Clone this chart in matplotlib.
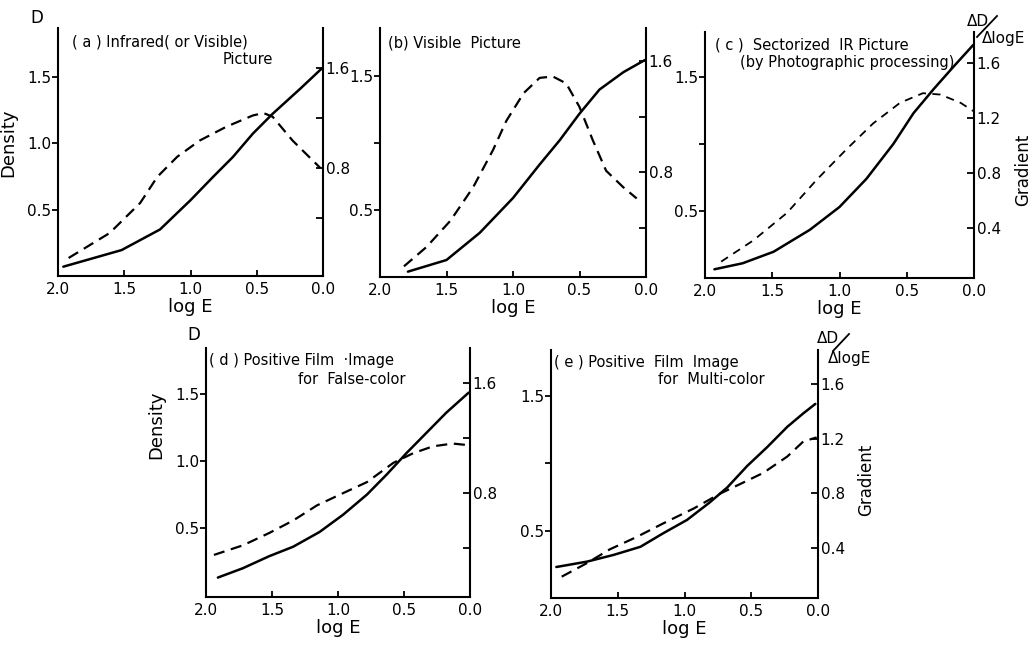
import numpy as np
import matplotlib
matplotlib.use('Agg')
from matplotlib import pyplot as plt
from matplotlib.lines import Line2D

plt.rcParams['font.family'] = ['DejaVu Sans']

W, H = 1032, 646

# ---------------- data (log E, density D, gradient G)
a_x_D = [1.96, 1.52, 1.23, 1.00, 0.83, 0.68, 0.53, 0.38, 0.17, 0.01]
a_D = [0.07, 0.195, 0.35, 0.57, 0.745, 0.895, 1.07, 1.22, 1.41, 1.56]
a_x_G = [1.92, 1.61, 1.38, 1.25, 1.10, 0.93, 0.73, 0.53, 0.45, 0.38, 0.23, 0.02]
a_G = [0.08, 0.28, 0.52, 0.73, 0.89, 1.02, 1.13, 1.22, 1.24, 1.21, 1.02, 0.80]

b_x_D = [1.79, 1.50, 1.25, 1.00, 0.80, 0.65, 0.50, 0.35, 0.17, 0.01]
b_D = [0.04, 0.127, 0.33, 0.59, 0.84, 1.02, 1.22, 1.40, 1.53, 1.62]
b_x_G = [1.82, 1.65, 1.47, 1.30, 1.15, 1.05, 0.92, 0.80, 0.70, 0.60, 0.50, 0.40, 0.30, 0.17, 0.07]
b_G = [0.12, 0.26, 0.45, 0.69, 0.96, 1.17, 1.37, 1.48, 1.49, 1.44, 1.27, 1.03, 0.81, 0.69, 0.61]

c_x_D = [1.93, 1.72, 1.49, 1.22, 1.00, 0.80, 0.60, 0.45, 0.30, 0.15, 0.005]
c_D = [0.065, 0.11, 0.196, 0.36, 0.53, 0.74, 1.00, 1.23, 1.41, 1.58, 1.74]
c_x_G = [1.88, 1.64, 1.39, 1.17, 0.95, 0.75, 0.55, 0.38, 0.25, 0.10, 0.005]
c_G = [0.155, 0.31, 0.51, 0.75, 0.97, 1.16, 1.31, 1.38, 1.37, 1.31, 1.25]

d_x_D = [1.91, 1.72, 1.52, 1.34, 1.14, 0.96, 0.78, 0.63, 0.48, 0.33, 0.18, 0.01]
d_D = [0.13, 0.20, 0.29, 0.36, 0.47, 0.60, 0.75, 0.90, 1.06, 1.21, 1.36, 1.51]
d_x_G = [1.94, 1.72, 1.52, 1.34, 1.16, 0.96, 0.78, 0.58, 0.43, 0.28, 0.13, 0.03]
d_G = [0.35, 0.42, 0.51, 0.60, 0.71, 0.80, 0.88, 1.02, 1.09, 1.14, 1.16, 1.15]

e_x_D = [1.96, 1.73, 1.53, 1.33, 1.16, 0.98, 0.81, 0.68, 0.53, 0.38, 0.23, 0.11, 0.02]
e_D = [0.23, 0.27, 0.32, 0.38, 0.48, 0.58, 0.71, 0.82, 0.98, 1.12, 1.27, 1.37, 1.44]
e_x_G = [1.92, 1.73, 1.56, 1.36, 1.16, 0.93, 0.73, 0.58, 0.41, 0.23, 0.11, 0.01]
e_G = [0.19, 0.29, 0.39, 0.48, 0.58, 0.69, 0.80, 0.87, 0.95, 1.07, 1.18, 1.21]

x_ticks = [2.0, 1.5, 1.0, 0.5, 0.0]
x_labels = ['2.0', '1.5', '1.0', '0.5', '0.0']
d_ticks = [0.5, 1.0, 1.5]
g_ticks = [0.4, 0.8, 1.2, 1.6]


def px(x, y):
    return x / W, 1 - y / H


fig = plt.figure(figsize=(W / 100, H / 100), dpi=100)


def panel(l, t, r, b, xD, D, xG, G, ylim_d, ylim_g, d_lab, g_lab,
          g_lw=1.6, g_dash=(5, 3)):
    ax = fig.add_axes([l / W, 1 - b / H, (r - l) / W, (b - t) / H])
    ax.set_xlim(2.0, 0.0)
    ax.set_ylim(*ylim_d)
    ax.plot(xD, D, color='black', lw=1.8, solid_capstyle='round',
            solid_joinstyle='round')
    ax.spines['top'].set_visible(False)
    ax.spines['right'].set_visible(False)
    for s in ['left', 'bottom']:
        ax.spines[s].set_linewidth(1.5)
    ax.set_xticks(x_ticks)
    ax.set_xticklabels(x_labels, fontsize=11)
    ax.set_yticks(d_ticks)
    ax.set_yticklabels(d_lab, fontsize=11)
    ax.tick_params(axis='x', direction='in', length=4, width=1.3, pad=4)
    ax.tick_params(axis='y', direction='out', length=4, width=1.3, pad=1)
    ax.set_xlabel('log E', fontsize=13, labelpad=1)

    ax2 = ax.twinx()
    ax2.set_position(ax.get_position())
    ax2.set_ylim(*ylim_g)
    ax2.plot(xG, G, color='black', lw=g_lw, dashes=g_dash)
    for s in ['top', 'left', 'bottom']:
        ax2.spines[s].set_visible(False)
    ax2.spines['right'].set_linewidth(1.5)
    ax2.set_yticks(g_ticks)
    ax2.set_yticklabels(g_lab, fontsize=11)
    ax2.tick_params(axis='y', direction='in', length=5, width=1.3, pad=2)
    return ax, ax2


full_d = ['0.5', '1.0', '1.5']
part_d = ['0.5', '', '1.5']
part_g = ['', '0.8', '', '1.6']
full_g = ['0.4', '0.8', '1.2', '1.6']

# (a)
ax_a, _ = panel(58, 28, 323, 276, a_x_D, a_D, a_x_G, a_G,
                (0, 1.865), (-0.064, 1.92), full_d, part_g)
ax_a.set_ylabel('Density', fontsize=13)
ax_a.yaxis.set_label_coords(-0.155, 0.536)
# (b)
panel(380, 28, 646, 277, b_x_D, b_D, b_x_G, b_G,
      (0, 1.86), (0.043, 1.84), part_d, part_g)
# (c)
_, ax2_c = panel(705, 32, 974, 278, c_x_D, c_D, c_x_G, c_G,
                 (0, 1.836), (0.036, 1.825), part_d, full_g,
                 g_lw=1.3, g_dash=(4.5, 3.5))
ax2_c.set_ylabel('Gradient', fontsize=12, rotation=90)
ax2_c.yaxis.set_label_coords(1.148, 0.44)
# (d)
ax_d, _ = panel(206, 348, 470, 597, d_x_D, d_D, d_x_G, d_G,
                (-0.015, 1.843), (0.044, 1.855), full_d, part_g)
ax_d.set_ylabel('Density', fontsize=13)
ax_d.yaxis.set_label_coords(-0.155, 0.69)
# (e)
_, ax2_e = panel(551, 350, 818, 598, e_x_D, e_D, e_x_G, e_G,
                 (0, 1.84), (0.034, 1.85), part_d, full_g)
ax2_e.set_ylabel('Gradient', fontsize=12, rotation=90)
ax2_e.yaxis.set_label_coords(1.146, 0.476)

# panel captions
tk = dict(fontsize=10.5, va='center')
fig.text(*px(72, 42), '( a ) Infrared( or Visible)', ha='left', **tk)
fig.text(*px(273, 60), 'Picture', ha='right', **tk)
fig.text(*px(388, 43), '(b) Visible  Picture', ha='left', **tk)
fig.text(*px(715, 45), '( c )  Sectorized  IR Picture', ha='left', **tk)
fig.text(*px(740, 63), '(by Photographic processing)', ha='left', **tk)
fig.text(*px(209, 361), '( d ) Positive Film  \u00b7Image', ha='left', **tk)
fig.text(*px(298, 380), 'for  False-color', ha='left', **tk)
fig.text(*px(554, 362), '( e ) Positive  Film  Image', ha='left', **tk)
fig.text(*px(658, 380), 'for  Multi-color', ha='left', **tk)

# "D" above the density axes
fig.text(*px(37, 18), 'D', fontsize=12, ha='center', va='center')
fig.text(*px(194, 335), 'D', fontsize=12, ha='center', va='center')

# dD / dlogE labels above the gradient axes
for (dx, dy, lx, ly, s0, s1) in [(978, 22, 1004, 39, (977, 37), (997, 16)),
                                  (828, 339, 850, 359, (833, 351), (849, 334))]:
    fig.text(*px(dx, dy), '\u0394D', fontsize=11, ha='center', va='center')
    fig.text(*px(lx, ly), '\u0394logE', fontsize=11, ha='center', va='center')
    x0, y0 = px(*s0)
    x1, y1 = px(*s1)
    fig.add_artist(Line2D([x0, x1], [y0, y1], transform=fig.transFigure,
                          color='black', lw=1.3))

fig.savefig('out.png', dpi=100)
